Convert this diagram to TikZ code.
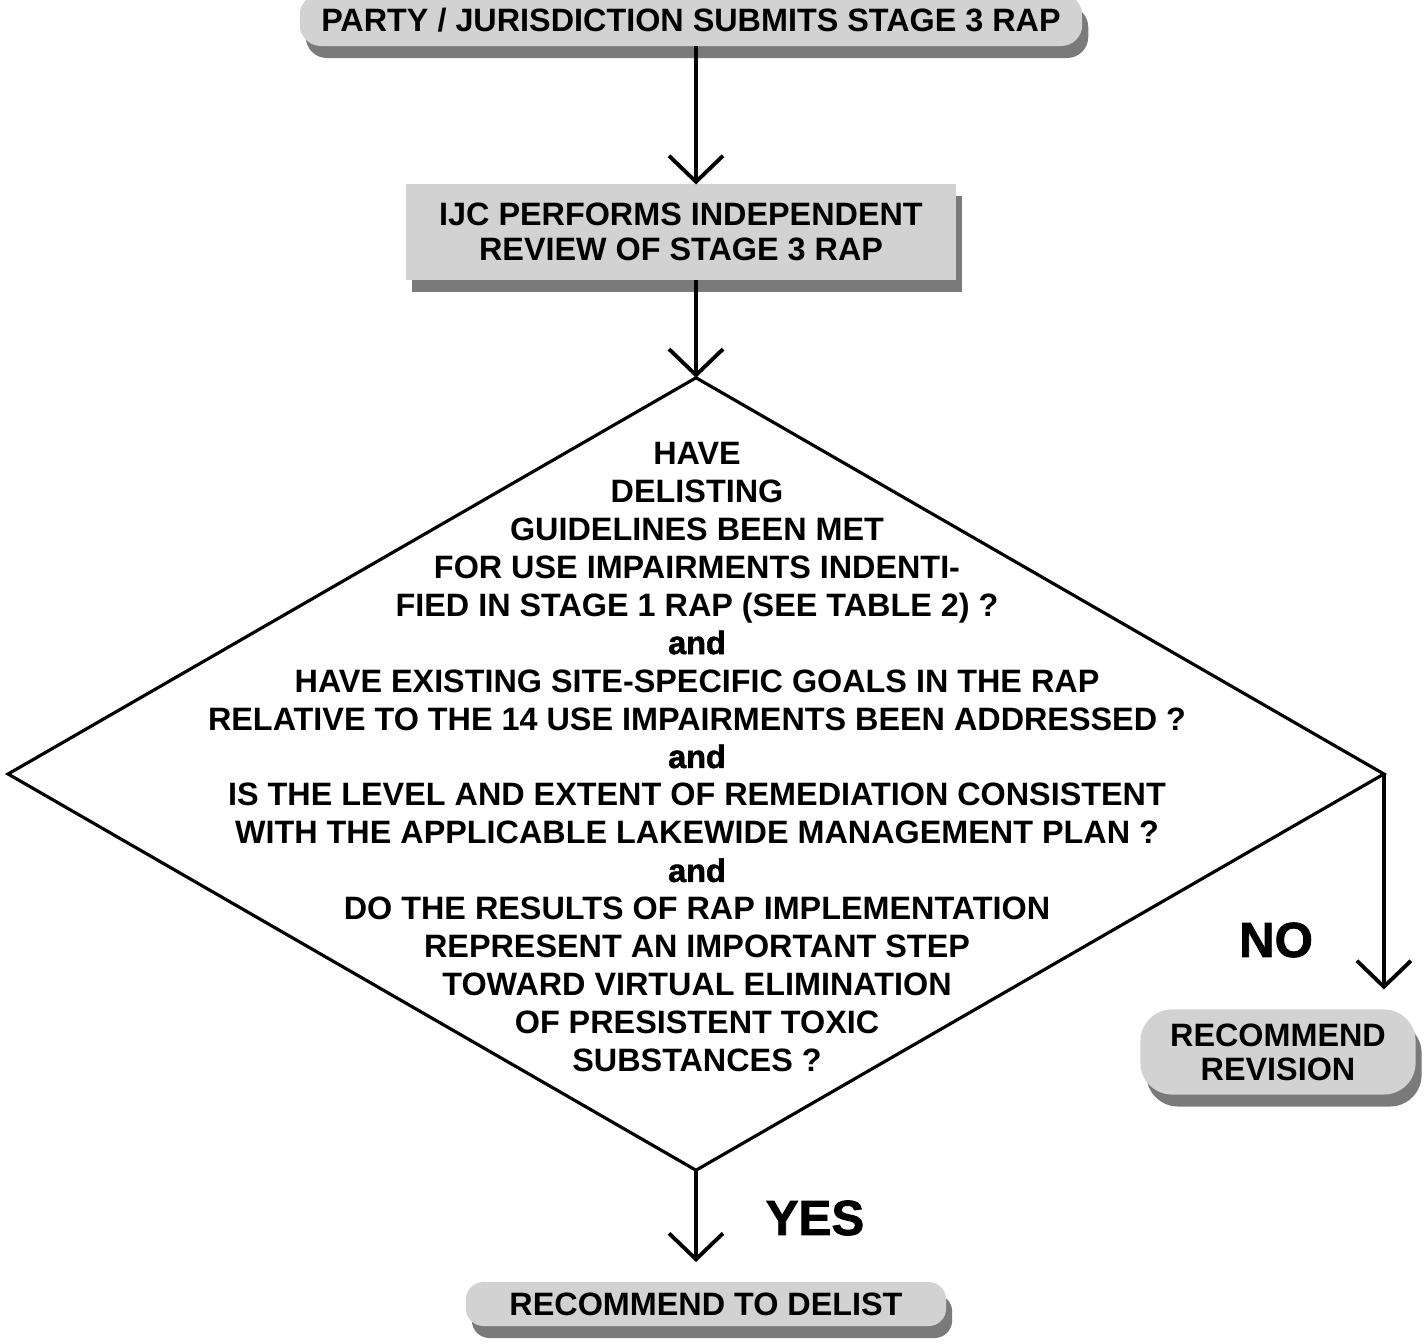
\documentclass[tikz,border=0pt]{standalone}
\usepackage{fontspec}
\setmainfont{Liberation Sans}
\newfontfamily\heavyfont{Liberation Sans Bold}[FakeBold=1.6]
\usepackage{tikz}
\usetikzlibrary{positioning,arrows.meta,shapes.geometric,shadows}
\definecolor{BoxGray}{HTML}{D2D2D2}
\definecolor{ShadeGray}{HTML}{7A7A7A}

\begin{document}
\begin{tikzpicture}[x=0.01cm,y=-0.01cm,
  every node/.style={inner sep=0pt,outer sep=0pt,font=\fontsize{9.2}{10.8}\selectfont\bfseries},
  graybox/.style={fill=BoxGray,align=center,drop shadow={fill=ShadeGray,opacity=1,shadow xshift=0.6mm,shadow yshift=-1.2mm}},
  arr/.style={line width=1.1pt,-{Straight Barb[length=2.6mm,width=5.4mm,line width=1.1pt]}},
  big/.style={font=\fontsize{14}{16}\selectfont\heavyfont}]
  \useasboundingbox (0,0) rectangle (1428,1343);
  \node[graybox,rounded corners=6pt,minimum width=7.82cm,minimum height=0.52cm] (sub) at (691,20) {PARTY / JURISDICTION SUBMITS STAGE 3 RAP};
  \node[graybox,minimum width=5.5cm,minimum height=0.95cm,font=\fontsize{9.2}{9.9}\selectfont\bfseries] (ijc) at (681,232) {IJC PERFORMS INDEPENDENT\\REVIEW OF STAGE 3 RAP};
  \node[draw,diamond,line width=0.9pt,minimum width=13.75cm,minimum height=7.92cm] (dec) at (696,774) {};
  \node[align=center] (q) at (697,757) {HAVE\\DELISTING\\GUIDELINES BEEN MET\\FOR USE IMPAIRMENTS INDENTI-\\FIED IN STAGE 1 RAP (SEE TABLE 2) ?\\{\heavyfont and}\\HAVE EXISTING SITE-SPECIFIC GOALS IN THE RAP\\RELATIVE TO THE 14 USE IMPAIRMENTS BEEN ADDRESSED ?\\{\heavyfont and}\\IS THE LEVEL AND EXTENT OF REMEDIATION CONSISTENT\\WITH THE APPLICABLE LAKEWIDE MANAGEMENT PLAN ?\\{\heavyfont and}\\DO THE RESULTS OF RAP IMPLEMENTATION\\REPRESENT AN IMPORTANT STEP\\TOWARD VIRTUAL ELIMINATION\\OF PRESISTENT TOXIC\\SUBSTANCES ?};
  \node[graybox,rounded corners=9pt,minimum width=2.75cm,minimum height=0.85cm,font=\fontsize{9.2}{9.7}\selectfont\bfseries] (revise) at (1278,1052) {RECOMMEND\\REVISION};
  \node[graybox,rounded corners=5pt,minimum width=4.8cm,minimum height=0.44cm] (delist) at (706,1304) {RECOMMEND TO DELIST};
  \node[big] (yes) at (815,1218) {YES};
  \node[big] (no) at (1276,940) {NO};
  \draw[arr] (sub.south -| dec.north) -- (ijc.north -| dec.north);
  \draw[arr] (ijc.south -| dec.north) -- (dec.north);
  \draw[arr,shorten >=2mm] (dec.south) -- (delist.north -| dec.south);
  \draw[arr,shorten >=2mm] (dec.east) -- (dec.east |- revise.north);
\end{tikzpicture}
\end{document}
